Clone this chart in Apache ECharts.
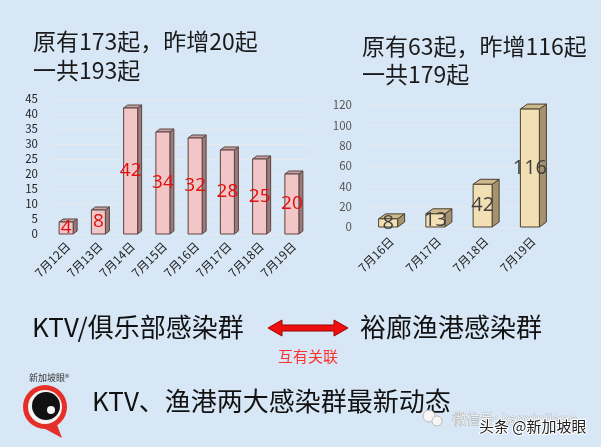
<!DOCTYPE html>
<html><head><meta charset="utf-8">
<script src="https://cdn.jsdelivr.net/npm/echarts@6/dist/echarts.min.js"></script>
<style>html,body{margin:0;padding:0;background:#d8e7f6}#c{width:601px;height:447px}</style>
</head><body><div id="c"></div>
<script>
const ktvDates = ['7月12日','7月13日','7月14日','7月15日','7月16日','7月17日','7月18日','7月19日'];
const ktvCases = [4, 8, 42, 34, 32, 28, 25, 20];
const portDates = ['7月16日','7月17日','7月18日','7月19日'];
const portCases = [8, 13, 42, 116];
const ktvTicks = {min: 0, max: 45, interval: 5};
const portTicks = {min: 0, max: 120, interval: 20};

const CJK = '"Noto Sans CJK SC", "Noto Sans", sans-serif';

function bar3d(w, dx, dy, front, side, top, stroke, lblColor, lblSize) {
  return function (params, api) {
    const idx = api.value(0), v = api.value(1);
    const p = api.coord([idx, v]), p0 = api.coord([idx, 0]);
    const cx = p[0] - dx / 2, yt = p[1], yb = p0[1];
    const l = cx - w / 2, r = cx + w / 2;
    return {
      type: 'group',
      children: [
        {type: 'polygon', shape: {points: [[r, yt], [r + dx, yt - dy], [r + dx, yb - dy], [r, yb]]},
         style: {fill: side, stroke: stroke, lineWidth: 1}},
        {type: 'polygon', shape: {points: [[l, yt], [l + dx, yt - dy], [r + dx, yt - dy], [r, yt]]},
         style: {fill: top, stroke: stroke, lineWidth: 1}},
        {type: 'rect', shape: {x: l, y: yt, width: w, height: yb - yt},
         style: {fill: front, stroke: stroke, lineWidth: 1}},
        {type: 'text', x: cx, y: (yt + yb) / 2,
         style: {text: String(v), align: 'center', verticalAlign: 'middle', fill: lblColor,
                 fontSize: lblSize, fontFamily: '"Open Sans", "Noto Sans", sans-serif'}}
      ]
    };
  };
}

const chart = echarts.init(document.getElementById('c'), null, {renderer: 'canvas'});
const axisLbl = {color: '#222', fontSize: 12, fontFamily: CJK};
chart.setOption({
  backgroundColor: '#d8e7f6',
  animation: false,
  grid: [
    {left: 52, top: 99, width: 258, height: 135},
    {left: 368, top: 105, width: 189, height: 122}
  ],
  xAxis: [
    {gridIndex: 0, type: 'category', data: ktvDates, axisLine: {show: false}, axisTick: {show: false},
     axisLabel: Object.assign({rotate: 45, margin: 10}, axisLbl)},
    {gridIndex: 1, type: 'category', data: portDates, axisLine: {show: false}, axisTick: {show: false},
     axisLabel: Object.assign({rotate: 45, margin: 12}, axisLbl)}
  ],
  yAxis: [
    {gridIndex: 0, type: 'value', min: ktvTicks.min, max: ktvTicks.max, interval: ktvTicks.interval,
     axisLabel: Object.assign({margin: 14}, axisLbl, {fontSize: 11.5}), axisLine: {show: false}, axisTick: {show: false},
     splitLine: {lineStyle: {color: 'rgba(235,235,235,0.75)', width: 1}}},
    {gridIndex: 1, type: 'value', min: portTicks.min, max: portTicks.max, interval: portTicks.interval,
     axisLabel: Object.assign({margin: 16}, axisLbl, {color: '#555', fontSize: 11.5}), axisLine: {show: false}, axisTick: {show: false},
     splitLine: {lineStyle: {color: 'rgba(235,235,235,0.75)', width: 1}}}
  ],
  series: [
    {type: 'custom', xAxisIndex: 0, yAxisIndex: 0,
     data: ktvCases.map((v, i) => [i, v]),
     renderItem: bar3d(14, 4, 3, '#f2c6c6', '#9c7a7a', '#c9a2a2', '#5a4444', '#e01010', 19)},
    {type: 'custom', xAxisIndex: 1, yAxisIndex: 1,
     data: portCases.map((v, i) => [i, v]),
     renderItem: bar3d(19, 7, 5, '#f3dfb4', '#a59270', '#cdb88e', '#4a4030', '#404040', 20)}
  ],
  graphic: [
    {type: 'text', left: 33, top: 30, style: {text: '原有173起，昨增20起', fontSize: 23, fontFamily: CJK, fill: '#1a1a1a'}},
    {type: 'text', left: 33, top: 59, style: {text: '一共193起', fontSize: 23, fontFamily: CJK, fill: '#1a1a1a'}},
    {type: 'text', left: 362, top: 35, style: {text: '原有63起，昨增116起', fontSize: 23, fontFamily: CJK, fill: '#1a1a1a'}},
    {type: 'text', left: 362, top: 63, style: {text: '一共179起', fontSize: 23, fontFamily: CJK, fill: '#1a1a1a'}},
    {type: 'text', left: 32, top: 314, style: {text: 'KTV/俱乐部感染群', fontSize: 26, fontFamily: CJK, fill: '#111'}},
    {type: 'text', left: 360, top: 314, style: {text: '裕廊渔港感染群', fontSize: 26, fontFamily: CJK, fill: '#111'}},
    {type: 'polygon', shape: {points: [[268, 328], [282, 320], [282, 325], [334, 325], [334, 320], [348, 328],
                                        [334, 336], [334, 331], [282, 331], [282, 336]]},
     style: {fill: '#ee1010', stroke: '#a00000', lineWidth: 1}},
    {type: 'text', left: 278, top: 349, style: {text: '互有关联', fontSize: 15, fontFamily: CJK, fill: '#ff3030'}},
    {type: 'text', left: 92, top: 388, style: {text: 'KTV、渔港两大感染群最新动态', fontSize: 26, fontFamily: CJK, fill: '#111'}},
    // logo
    {type: 'polygon', shape: {points: [[38, 425], [56, 422], [62, 438]]}, style: {fill: '#e5302a'}},
    {type: 'circle', shape: {cx: 45, cy: 407, r: 22}, style: {fill: '#e5302a'}},
    {type: 'circle', shape: {cx: 45, cy: 407, r: 17}, style: {fill: '#f4f4f4'}},
    {type: 'circle', shape: {cx: 46, cy: 406, r: 14}, style: {fill: '#111'}},
    {type: 'circle', shape: {cx: 51, cy: 410, r: 4}, style: {fill: '#f4f4f4'}},
    {type: 'text', left: 29, top: 373, style: {text: '新加坡眼®', fontSize: 9, fontFamily: CJK, fill: '#333'}},
    // watermark
    {type: 'circle', shape: {cx: 429, cy: 416, r: 6}, style: {fill: '#f6f6f6', stroke: '#bbb'}},
    {type: 'circle', shape: {cx: 437, cy: 421, r: 5}, style: {fill: '#f6f6f6', stroke: '#bbb'}},
    {type: 'text', left: 452, top: 411, style: {text: '微信号: kanxinjiapo', fontSize: 14, fontFamily: CJK, fill: '#f0f0f0', stroke: '#999', lineWidth: 0.6}},
    {type: 'text', left: 478, top: 418, style: {text: '头条 @新加坡眼', fontSize: 15, fontFamily: CJK, fill: '#222', stroke: '#fff', lineWidth: 2}}
  ]
});
</script></body></html>
